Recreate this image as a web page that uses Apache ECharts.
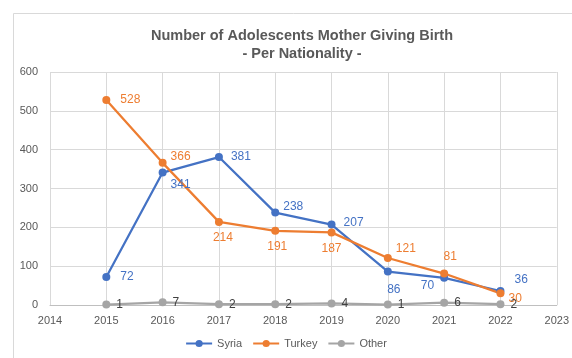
<!DOCTYPE html>
<html>
<head>
<meta charset="utf-8">
<script src="https://cdn.jsdelivr.net/npm/echarts@6/dist/echarts.min.js"></script>
<style>
  html, body { margin: 0; padding: 0; background: #fff; }
  #chart { width: 572px; height: 358px; }
</style>
</head>
<body>
<div id="chart"></div>
<script>
// Births to adolescent mothers, by nationality
const years = [2015, 2016, 2017, 2018, 2019, 2020, 2021, 2022];
const syria = [72, 341, 381, 238, 207, 86, 70, 36];
const turkey = [528, 366, 214, 191, 187, 121, 81, 30];
const other = [1, 7, 2, 2, 4, 1, 6, 2];
const yTicks = [0, 100, 200, 300, 400, 500, 600];
const xTicks = [2014, 2015, 2016, 2017, 2018, 2019, 2020, 2021, 2022, 2023];

// Where each value label sits relative to its marker
const syriaLabelPos = [
  { position: 'right', offset: [4, 0] },
  { position: 'right', offset: [-2, 12] },
  { position: 'right', offset: [2, 0] },
  { position: 'right', offset: [-2, -6] },
  { position: 'right', offset: [2, -2] },
  { position: 'bottom', offset: [6, 2] },
  { position: 'left', offset: [0, 8] },
  { position: 'right', offset: [4, -11] }
];
const turkeyLabelPos = [
  { position: 'right', offset: [4, 0] },
  { position: 'right', offset: [-2, -6] },
  { position: 'bottom', offset: [4, 0] },
  { position: 'bottom', offset: [2, 0] },
  { position: 'bottom', offset: [0, 0] },
  { position: 'right', offset: [-2, -9] },
  { position: 'top', offset: [6, -1] },
  { position: 'right', offset: [-2, 5] }
];

const FONT = 'Liberation Sans';

function build(values, placements) {
  return values.map((v, i) => {
    const item = { value: [years[i], v] };
    if (placements) {
      item.label = { position: placements[i].position, offset: placements[i].offset };
    }
    return item;
  });
}

function lineSeries(name, values, placements, color, labelColor) {
  return {
    name: name,
    type: 'line',
    data: build(values, placements),
    symbol: 'circle',
    symbolSize: 8,
    lineStyle: { color: color, width: 2.25 },
    itemStyle: { color: color },
    label: {
      show: true,
      position: 'right',
      distance: 6,
      color: labelColor,
      fontFamily: FONT,
      fontSize: 12,
      formatter: p => String(p.value[1])
    },
    emphasis: { disabled: true },
    animation: false
  };
}

const chart = echarts.init(document.getElementById('chart'), null, { renderer: 'canvas' });

chart.setOption({
  backgroundColor: '#fff',
  animation: false,
  graphic: [{
    type: 'rect',
    shape: { x: 13.5, y: 13.5, width: 600, height: 400 },
    style: { fill: 'none', stroke: '#d9d9d9', lineWidth: 1 },
    silent: true,
    z: -1
  }],
  title: {
    text: 'Number of Adolescents Mother Giving Birth\n- Per Nationality -',
    left: 297,
    top: 22,
    textAlign: 'center',
    textStyle: {
      fontFamily: FONT,
      fontSize: 14.5,
      fontWeight: 'bold',
      color: '#595959',
      lineHeight: 18
    }
  },
  legend: {
    bottom: 4,
    left: 'center',
    itemWidth: 26,
    itemHeight: 9,
    itemGap: 10,
    textStyle: { fontFamily: FONT, fontSize: 11, color: '#595959' },
    data: ['Syria', 'Turkey', 'Other']
  },
  grid: { left: 50, right: 13, top: 72, bottom: 53, containLabel: false },
  xAxis: {
    type: 'value',
    min: xTicks[0],
    max: xTicks[xTicks.length - 1],
    interval: 1,
    axisLine: { show: true, lineStyle: { color: '#bfbfbf' } },
    axisTick: { show: false },
    splitLine: { show: true, lineStyle: { color: '#d9d9d9' } },
    axisLabel: {
      color: '#595959', fontFamily: FONT, fontSize: 11, margin: 10,
      formatter: v => String(v)
    }
  },
  yAxis: {
    type: 'value',
    min: yTicks[0],
    max: yTicks[yTicks.length - 1],
    interval: 100,
    axisLine: { show: false },
    axisTick: { show: false },
    splitLine: { show: true, lineStyle: { color: '#d9d9d9' } },
    axisLabel: { color: '#595959', fontFamily: FONT, fontSize: 11, margin: 12 }
  },
  series: [
    lineSeries('Syria', syria, syriaLabelPos, '#4472C4', '#4472C4'),
    lineSeries('Turkey', turkey, turkeyLabelPos, '#ED7D31', '#ED7D31'),
    lineSeries('Other', other, null, '#A5A5A5', '#404040')
  ]
});
</script>
</body>
</html>
